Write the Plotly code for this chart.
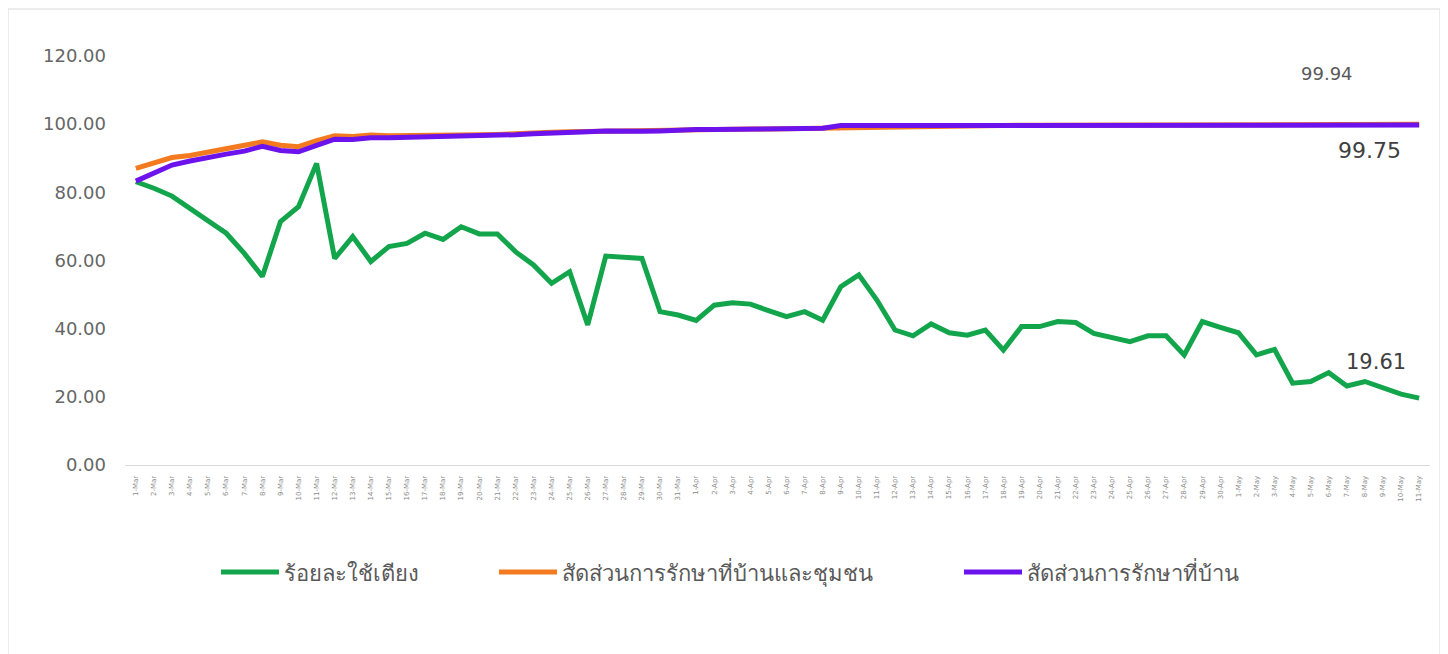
import plotly.graph_objects as go

dates = ["1-Mar","2-Mar","3-Mar","4-Mar","5-Mar","6-Mar","7-Mar","8-Mar","9-Mar","10-Mar",
         "11-Mar","12-Mar","13-Mar","14-Mar","15-Mar","16-Mar","17-Mar","18-Mar","19-Mar","20-Mar",
         "21-Mar","22-Mar","23-Mar","24-Mar","25-Mar","26-Mar","27-Mar","28-Mar","29-Mar","30-Mar",
         "31-Mar","1-Apr","2-Apr","3-Apr","4-Apr","5-Apr","6-Apr","7-Apr","8-Apr","9-Apr",
         "10-Apr","11-Apr","12-Apr","13-Apr","14-Apr","15-Apr","16-Apr","17-Apr","18-Apr","19-Apr",
         "20-Apr","21-Apr","22-Apr","23-Apr","24-Apr","25-Apr","26-Apr","27-Apr","28-Apr","29-Apr",
         "30-Apr","1-May","2-May","3-May","4-May","5-May","6-May","7-May","8-May","9-May",
         "10-May","11-May"]

bed_use = [83.1, 81.2, 78.9, 75.3, 71.9, 68.0, 62.1, 55.3, 71.4, 75.8,
           88.5, 60.6, 67.0, 59.7, 64.1, 65.0, 68.0, 66.2, 69.9, 67.8,
           67.8, 62.6, 58.7, 53.3, 56.7, 41.1, 61.3, 61.1, 60.6, 45.0,
           44.0, 42.4, 46.9, 47.6, 47.2, 45.3, 43.5, 45.0, 42.5, 52.3,
           55.8, 48.4, 39.6, 37.9, 41.4, 38.8, 38.1, 39.6, 33.7, 40.6,
           40.6, 42.1, 41.8, 38.6, 37.5, 36.2, 37.9, 37.9, 32.3, 42.1,
           40.4, 38.8, 32.3, 33.9, 24.0, 24.5, 27.1, 23.2, 24.5, 22.5,
           20.8, 19.61]

home_community = [87.0, 88.5, 90.2, 90.8, 91.8, 92.8, 93.6, 94.8, 93.8, 93.4,
                  95.2, 96.6, 96.4, 96.8, 96.6, 96.6, 96.6, 96.7, 96.8, 96.9,
                  97.0, 97.1, 97.4, 97.6, 97.8, 97.9, 98.1, 98.0, 98.0, 98.2,
                  98.4, 98.4, 98.5, 98.5, 98.6, 98.6, 98.7, 98.8, 98.8, 98.9,
                  99.0, 99.0, 99.1, 99.1, 99.2, 99.3, 99.6, 99.7, 99.7, 99.7,
                  99.7, 99.7, 99.8, 99.8, 99.8, 99.8, 99.8, 99.8, 99.8, 99.8,
                  99.8, 99.8, 99.8, 99.9, 99.9, 99.9, 99.9, 99.9, 99.9, 99.9,
                  99.94, 99.94]

home = [83.3, 85.6, 88.0, 89.2, 90.3, 91.2, 92.1, 93.5, 92.3, 91.9,
        93.8, 95.6, 95.5, 96.0, 96.0, 96.1, 96.3, 96.5, 96.5, 96.7,
        96.8, 96.9, 97.2, 97.5, 97.7, 97.8, 98.0, 97.8, 97.9, 98.0,
        98.3, 98.4, 98.4, 98.4, 98.5, 98.5, 98.6, 98.7, 98.8, 99.6,
        99.6, 99.6, 99.6, 99.6, 99.6, 99.6, 99.6, 99.6, 99.6, 99.6,
        99.6, 99.6, 99.6, 99.6, 99.6, 99.6, 99.6, 99.6, 99.6, 99.6,
        99.6, 99.6, 99.6, 99.6, 99.7, 99.7, 99.7, 99.7, 99.7, 99.75,
        99.75, 99.75]

y_ticks = [0, 20, 40, 60, 80, 100, 120]

names = ["ร้อยละใช้เตียง", "สัดส่วนการรักษาที่บ้านและชุมชน", "สัดส่วนการรักษาที่บ้าน"]
colors = ["#13A54B", "#F47A20", "#6C12EC"]

FONT = "DejaVu Sans, Noto Sans, Liberation Sans, sans-serif"

# the page body has an 8px margin; the figure is sized and placed to compensate
W, H = 1440, 646
L, R, T, B = 117, 18, 48, 189
PW, PH = W - L - R, H - T - B

fig = go.Figure()
fig.add_trace(go.Scatter(x=dates, y=bed_use, mode="lines", name=names[0],
                         line=dict(color=colors[0], width=5), legend="legend"))
fig.add_trace(go.Scatter(x=dates, y=home_community, mode="lines", name=names[1],
                         line=dict(color=colors[1], width=5), legend="legend2"))
fig.add_trace(go.Scatter(x=dates, y=home, mode="lines", name=names[2],
                         line=dict(color=colors[2], width=5), legend="legend3"))

leg_common = dict(orientation="h", yanchor="middle", y=-0.262, xanchor="left",
                  font=dict(size=22, color="#595959", family=FONT),
                  itemwidth=58, bgcolor="rgba(0,0,0,0)", tracegroupgap=0)

fig.update_layout(
    width=W, height=H,
    margin=dict(l=L, r=R, t=T, b=B),
    paper_bgcolor="white", plot_bgcolor="white",
    font=dict(family=FONT),
    xaxis=dict(type="category", range=[-0.6, 71.6], showgrid=False,
               showline=True, linecolor="#d9d9d9", linewidth=1,
               tickangle=-90, tickfont=dict(size=7, color="#8c8c8c", family=FONT),
               ticks="", zeroline=False, ticklabelstandoff=7),
    yaxis=dict(range=[0, 120], tickvals=y_ticks, tickformat=".2f",
               showgrid=False, zeroline=False, showline=False,
               tickfont=dict(size=18, color="#666666", family=FONT), ticklabelstandoff=18),
    legend=dict(**leg_common, x=(214 - 6 - L) / PW),
    legend2=dict(**leg_common, x=(492 - 6 - L) / PW),
    legend3=dict(**leg_common, x=(957 - 6 - L) / PW),
    showlegend=True,
)

fig.add_annotation(x=dates[66], y=115.0, text="99.94", showarrow=False,
                   xanchor="center", xshift=-2,
                   font=dict(size=18, color="#595959", family=FONT))
fig.add_annotation(x=dates[68], y=92.4, text="99.75", showarrow=False,
                   xanchor="center", xshift=5,
                   font=dict(size=22, color="#404040", family=FONT))
fig.add_annotation(x=dates[68], y=30.2, text="19.61", showarrow=False,
                   xanchor="center", xshift=11,
                   font=dict(size=21, color="#404040", family=FONT))

fig.add_shape(type="rect", xref="paper", yref="paper",
              x0=(0 - L) / PW, x1=(1432 - L) / PW,
              y0=(H - B - 680) / PH, y1=(H - B - 1) / PH,
              line=dict(color="#d9d9d9", width=1), fillcolor="rgba(0,0,0,0)", layer="below")

fig.write_html("out.html")
